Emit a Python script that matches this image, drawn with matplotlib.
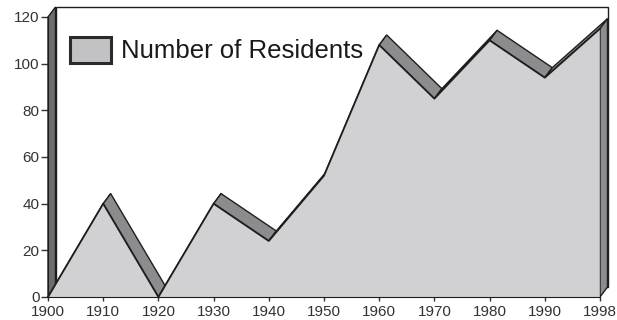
import matplotlib
matplotlib.use("Agg")
import matplotlib.pyplot as plt
from matplotlib.patches import Polygon, Rectangle

plt.rcParams['font.family'] = ['Liberation Sans', 'DejaVu Sans']

# dados
anos = ["1900", "1910", "1920", "1930", "1940", "1950", "1960", "1970", "1980", "1990", "1998"]
moradores = [0, 40, 0, 40, 24, 52, 108, 85, 110, 94, 115]
legenda = "Number of Residents"

cor_frente = "#d1d1d3"
cor_topo = "#8c8c8e"
cor_parede = "#6e6e70"
cor_borda = "#1e1e1e"

fig = plt.figure(figsize=(6.17, 3.2), dpi=100)
ax = fig.add_axes([48 / 617, 23 / 320, 552 / 617, 280 / 320])
ax.set_xlim(0, len(anos) - 1)
ax.set_ylim(0, 120)

# deslocamento da profundidade "3D" em unidades de dados
dx = 7.5 / 55.2
dy = 10 / 2.333
n = len(anos) - 1

# parede do fundo
ax.add_patch(Polygon([(dx, dy), (n + dx, dy), (n + dx, 120 + dy), (dx, 120 + dy)],
                     closed=True, facecolor="white", edgecolor=cor_borda, lw=1.0,
                     clip_on=False, zorder=1))
# parede da esquerda
ax.add_patch(Polygon([(0, 0), (0, 120), (dx, 120 + dy), (dx, dy)],
                     closed=True, facecolor=cor_parede, edgecolor=cor_borda, lw=1.0,
                     clip_on=False, zorder=2))

# faixas do topo (espessura da area)
for i in range(n):
    y0, y1 = moradores[i], moradores[i + 1]
    ax.add_patch(Polygon([(i, y0), (i + 1, y1), (i + 1 + dx, y1 + dy), (i + dx, y0 + dy)],
                         closed=True, facecolor=cor_topo, edgecolor=cor_borda, lw=1.0,
                         clip_on=False, zorder=3))
# lateral direita
ax.add_patch(Polygon([(n, 0), (n, moradores[-1]), (n + dx, moradores[-1] + dy), (n + dx, dy)],
                     closed=True, facecolor=cor_topo, edgecolor=cor_borda, lw=1.0,
                     clip_on=False, zorder=3))

# face da frente
xs = list(range(len(anos)))
ax.fill_between(xs, moradores, 0, facecolor=cor_frente, edgecolor="none", zorder=4)
ax.plot(xs, moradores, color=cor_borda, lw=1.3, zorder=5, clip_on=False)
ax.plot([n, n], [0, moradores[-1]], color=cor_borda, lw=1.0, zorder=5)

ax.set_xticks(xs)
ax.set_xticklabels(anos)
ax.set_yticks(range(0, 121, 20))
ax.tick_params(axis="both", labelsize=11, colors="#333333", width=1.0)
ax.tick_params(axis="y", length=5, pad=1)
ax.tick_params(axis="x", length=3, pad=2.5)
for s in ["top", "right"]:
    ax.spines[s].set_visible(False)
for s in ["left", "bottom"]:
    ax.spines[s].set_color(cor_borda)
    ax.spines[s].set_zorder(6)
ax.patch.set_visible(False)

# legenda
ax.add_patch(Rectangle((22 / 552, (297 - 63) / 280), 41 / 552, 26 / 280,
                       transform=ax.transAxes, facecolor="#c2c2c4", edgecolor="#2a2a2a",
                       lw=2.2, zorder=7))
ax.text(73 / 552, (297 - 51) / 280, legenda, transform=ax.transAxes,
        fontsize=18.5, color="#1a1a1a", va="center", ha="left", zorder=7)

fig.savefig("out.png", dpi=100)
